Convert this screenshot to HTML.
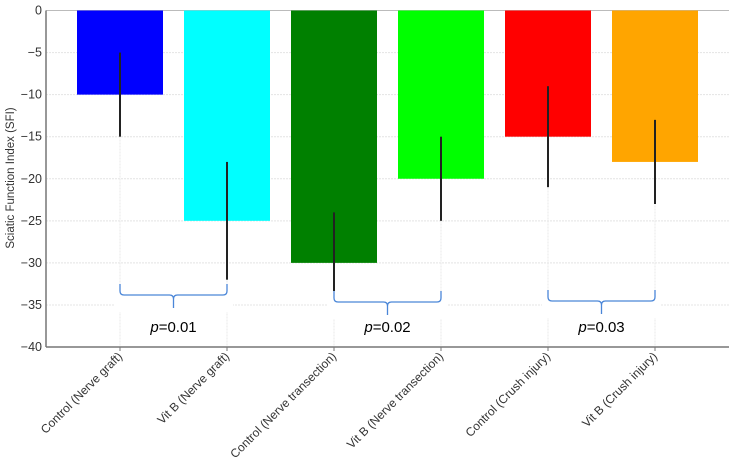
<!DOCTYPE html>
<html><head><meta charset="utf-8"><style>
body{margin:0;background:#fff;}
svg{font-family:"Liberation Sans",sans-serif;}
</style></head><body>
<svg id="c" width="735" height="459"></svg>
<script>
const categories=["Control (Nerve graft)","Vit B (Nerve graft)","Control (Nerve transection)","Vit B (Nerve transection)","Control (Crush injury)","Vit B (Crush injury)"];
const values=[-10,-25,-30,-20,-15,-18];
const errors=[5,7,6,5,6,5];
const colors=["#0000ff","#00ffff","#008000","#00ff00","#ff0000","#ffa500"];
const yTicks=[0,-5,-10,-15,-20,-25,-30,-35,-40];
const pairs=[[0,1],[2,3],[4,5]];
const pLabels=["0.01","0.02","0.03"];
const NS="http://www.w3.org/2000/svg";
const svg=document.getElementById('c');
const L=46,R=729,T=10.5,B=347;
const y=v=>T+(0-v)/40*(B-T);
const x=i=>120+i*107;
const bw=86;
const bracketTop=[284,291,290];
function mk(t,a,p){const e=document.createElementNS(NS,t);for(const k in a)e.setAttribute(k,a[k]);(p||svg).appendChild(e);return e;}
yTicks.forEach(t=>{
 const g=mk('line',{x1:L,x2:R,y1:y(t),y2:y(t),stroke:t===0?'#bbb':'#e4e4e4','stroke-dasharray':t===0?'':'2,1'});
 
 
 const tx=mk('text',{x:L-4,y:y(t)+4,'text-anchor':'end','font-size':12.5,fill:'#333'});
 tx.textContent=t===0?'0':'\u2212'+(-t);
 
 
});
categories.forEach((c,i)=>{
 const g=mk('line',{x1:x(i),x2:x(i),y1:T,y2:B,stroke:'#e8e8e8','stroke-dasharray':'2,1'});
 
 
});
values.forEach((v,i)=>{
 const r=mk('rect',{x:x(i)-bw/2,y:y(0),width:bw,height:y(v)-y(0),fill:colors[i]});
 
 
 const e=mk('line',{x1:x(i),x2:x(i),y1:y(v+errors[i]),y2:y(v-errors[i]),stroke:'#222','stroke-width':2});
 
 
});
pairs.forEach((p,k)=>{
 const x1=x(p[0]),x2=x(p[1]),m=(x1+x2)/2;
 const yt=bracketTop[k];
 mk('rect',{x:x1-6,y:yt,width:x2-x1+12,height:28,fill:'#fff'});
 const b=mk('path',{d:`M${x1},${yt} v7 q0,4 4,4 H${m-4} q4,0 4,4 v9 M${m},${yt+15} q0,-4 4,-4 H${x2-4} q4,0 4,-4 v-7`,fill:'none',stroke:'#4a86d8','stroke-width':1.3});
 
 
 const t=mk('text',{x:m,y:332,'text-anchor':'middle','font-size':15,fill:'#000'});
 t.innerHTML='<tspan font-style="italic">p</tspan>='+pLabels[k];
 
 
});
const ax=mk('line',{x1:L,x2:R,y1:B,y2:B,stroke:'#777','stroke-width':1.5});


const ay=mk('line',{x1:L,x2:L,y1:T,y2:B,stroke:'#777','stroke-width':1.5});


categories.forEach((c,i)=>{
 mk('line',{x1:x(i),x2:x(i),y1:B,y2:B+4,stroke:'#777'});
 const t=mk('text',{x:x(i)+3,y:B+10,'text-anchor':'end','font-size':12,fill:'#333',transform:`rotate(-45 ${x(i)+3} ${B+10})`});
 t.textContent=c;
 
 
});
const yl=mk('text',{x:14,y:178,'text-anchor':'middle','font-size':11.5,fill:'#333',transform:'rotate(-90 14 178)'});
yl.textContent='Sciatic Function Index (SFI)';


</script>
</body></html>
